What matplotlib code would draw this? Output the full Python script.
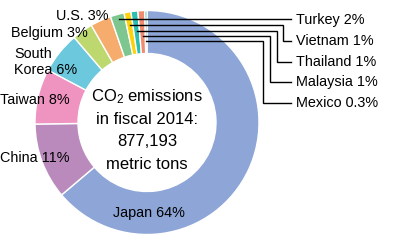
import numpy as np
import matplotlib.pyplot as plt

plt.rcParams['font.family'] = ['Liberation Sans', 'DejaVu Sans']
plt.rcParams['mathtext.fontset'] = 'custom'
plt.rcParams['mathtext.rm'] = 'Liberation Sans'
plt.rcParams['mathtext.it'] = 'Liberation Sans'

# donnees (part des emissions en %)
pays = ["Japan", "China", "Taiwan", "South\nKorea", "Belgium", "U.S.",
        "Turkey", "Vietnam", "Thailand", "Malaysia", "Mexico"]
parts = [64, 11, 8, 6, 3, 3, 2, 1, 1, 1, 0.3]
etiquettes = ["64%", "11%", "8%", "6%", "3%", "3%", "2%", "1%", "1%", "1%", "0.3%"]
couleurs = ["#8da6d7", "#bb8abd", "#ef94c1", "#6cc8dc", "#bcd86e", "#f5ac6c",
            "#7ec68f", "#fdd20a", "#2ebdb1", "#f08b70", "#1cb39f"]
texte_centre = ["CO$_2$ emissions", "in fiscal 2014:", "877,193", "metric tons"]

W, H = 401, 250
fig = plt.figure(figsize=(W / 100, H / 100), dpi=100)
ax = fig.add_axes([0, 0, 1, 1])
ax.set_xlim(0, W)
ax.set_ylim(0, H)
ax.set_aspect('equal')
ax.axis('off')

def Y(y):  # coordonnees image -> axes
    return H - y

cx, cy, R, r_int = 147, Y(122.5), 112, 69
wedges, _ = ax.pie(parts, colors=couleurs, startangle=90, counterclock=False,
                   center=(cx, cy), radius=R, frame=True,
                   wedgeprops=dict(width=R - r_int, edgecolor='white', linewidth=1))
ax.set_xlim(0, W)
ax.set_ylim(0, H)
ax.axis('off')

fs = 10.4
# etiquettes a gauche
ax.text(149, Y(213), "Japan 64%", fontsize=fs, ha='center', va='center')
ax.text(0, Y(158), "China 11%", fontsize=fs, ha='left', va='center')
ax.text(0, Y(100), "Taiwan 8%", fontsize=fs, ha='left', va='center')
ax.text(14, Y(62), "South\nKorea 6%", fontsize=fs, ha='left', va='center', linespacing=1.25)
ax.text(88, Y(33), "Belgium 3%", fontsize=fs, ha='right', va='center')
ax.text(108, Y(16), "U.S. 3%", fontsize=fs, ha='right', va='center')

# petites parts avec lignes de rappel
rayons_depart = [107, 99, 92.5, 87, 82]
x_coude = [None, 283, 277, 270, 263]
y_label = [20, 41, 62, 82, 103]
for k, i in enumerate(range(6, 11)):
    w = wedges[i]
    ang = np.deg2rad((w.theta1 + w.theta2) / 2)
    x0 = cx + rayons_depart[k] * np.cos(ang)
    y0 = cy + rayons_depart[k] * np.sin(ang)
    if x_coude[k] is None:
        xs, ys = [x0, 291], [y0, y0]
    else:
        xs = [x0, x_coude[k], x_coude[k], 291]
        ys = [y0, y0, Y(y_label[k]), Y(y_label[k])]
    ax.plot(xs, ys, color='black', lw=1, solid_joinstyle='miter')
    ax.text(296, Y(y_label[k]), pays[i] + " " + etiquettes[i], fontsize=fs,
            ha='left', va='center')

# texte au centre
for j, ligne in enumerate(texte_centre):
    ax.text(147, Y(97 + 22.5 * j), ligne, fontsize=12, ha='center', va='center')

plt.savefig("out.png", dpi=100)
